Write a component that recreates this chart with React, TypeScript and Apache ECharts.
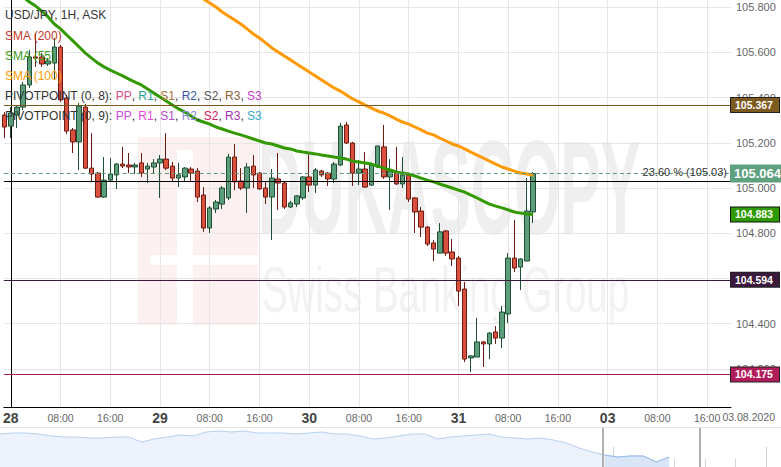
import React, { useEffect, useRef } from "react";
import * as echarts from "echarts";

// ---- data (hour index 0 = 28 Jul 00:00, weekend skipped) ----
const firstHour = -1;
const opens = [105.323, 105.274, 105.323, 105.358, 105.456, 105.580, 105.580, 105.549, 105.553, 105.624, 105.398, 105.257, 105.204, 105.358, 105.088, 105.066, 104.960, 105.035, 105.058, 105.106, 105.102, 105.093, 105.111, 105.084, 105.093, 105.111, 105.128, 105.097, 105.044, 105.049, 105.084, 105.075, 104.969, 104.823, 104.907, 104.929, 104.956, 105.137, 105.031, 105.000, 105.097, 105.066, 105.000, 104.960, 105.040, 105.022, 104.916, 104.929, 104.956, 105.049, 105.013, 105.075, 105.066, 105.040, 105.102, 105.279, 105.199, 105.066, 105.084, 105.013, 105.093, 105.182, 105.049, 105.071, 105.018, 105.058, 104.956, 104.898, 104.827, 104.757, 104.712, 104.810, 104.717, 104.690, 104.553, 104.248, 104.252, 104.319, 104.310, 104.363, 104.336, 104.443, 104.690, 104.650, 104.677, 104.894];
const closes = [105.270, 105.332, 105.358, 105.456, 105.580, 105.575, 105.549, 105.562, 105.624, 105.390, 105.252, 105.204, 105.363, 105.088, 105.062, 104.960, 105.035, 105.062, 105.106, 105.097, 105.093, 105.102, 105.066, 105.097, 105.111, 105.128, 105.088, 105.044, 105.058, 105.088, 105.066, 104.960, 104.823, 104.912, 104.938, 105.000, 105.137, 105.027, 105.000, 105.093, 105.058, 104.996, 104.960, 105.044, 105.022, 104.916, 104.934, 104.965, 105.049, 105.013, 105.080, 105.058, 105.040, 105.106, 105.274, 105.199, 105.066, 105.084, 105.004, 105.102, 105.186, 105.049, 105.075, 105.018, 105.058, 104.951, 104.894, 104.827, 104.752, 104.730, 104.806, 104.712, 104.686, 104.544, 104.243, 104.257, 104.319, 104.310, 104.358, 104.336, 104.451, 104.690, 104.646, 104.686, 104.898, 105.064];
const lows = [105.221, 105.221, 105.266, 105.345, 105.443, 105.536, 105.536, 105.540, 105.478, 105.381, 105.239, 105.155, 105.080, 105.084, 105.027, 104.956, 104.956, 105.027, 104.996, 105.088, 105.066, 105.062, 105.049, 105.022, 105.066, 104.956, 105.080, 105.027, 105.004, 105.027, 105.027, 104.938, 104.806, 104.801, 104.889, 104.907, 104.947, 104.991, 104.991, 104.889, 105.000, 104.991, 104.929, 104.770, 104.903, 104.907, 104.912, 104.916, 104.947, 104.982, 104.978, 105.049, 105.009, 105.022, 105.097, 105.195, 105.009, 105.013, 105.000, 105.009, 105.088, 105.040, 104.903, 105.013, 105.000, 104.938, 104.801, 104.783, 104.743, 104.677, 104.712, 104.699, 104.655, 104.478, 104.230, 104.186, 104.252, 104.208, 104.243, 104.310, 104.292, 104.403, 104.628, 104.549, 104.677, 104.845];
const highs = [105.336, 105.358, 105.367, 105.469, 105.611, 105.686, 105.597, 105.575, 105.664, 105.633, 105.412, 105.266, 105.376, 105.372, 105.243, 105.071, 105.137, 105.133, 105.111, 105.182, 105.155, 105.111, 105.155, 105.111, 105.128, 105.146, 105.243, 105.115, 105.111, 105.093, 105.093, 105.088, 105.004, 104.920, 104.947, 105.009, 105.151, 105.195, 105.088, 105.111, 105.146, 105.071, 105.027, 105.084, 105.155, 105.027, 104.943, 104.969, 105.053, 105.155, 105.088, 105.080, 105.071, 105.115, 105.288, 105.292, 105.204, 105.124, 105.159, 105.106, 105.186, 105.279, 105.128, 105.182, 105.137, 105.062, 104.960, 104.916, 104.832, 104.770, 104.845, 104.814, 104.774, 104.699, 104.584, 104.261, 104.425, 104.323, 104.363, 104.389, 104.478, 104.712, 104.859, 104.690, 105.044, 105.071];

const sma55Start = -1;
const sma55 = [105.905, 105.885, 105.863, 105.845, 105.823, 105.805, 105.783, 105.757, 105.726, 105.704, 105.677, 105.651, 105.624, 105.597, 105.575, 105.553, 105.536, 105.522, 105.509, 105.496, 105.482, 105.469, 105.456, 105.438, 105.420, 105.403, 105.385, 105.367, 105.350, 105.336, 105.319, 105.301, 105.292, 105.283, 105.270, 105.261, 105.252, 105.243, 105.235, 105.226, 105.217, 105.208, 105.199, 105.195, 105.186, 105.177, 105.173, 105.164, 105.159, 105.155, 105.151, 105.146, 105.142, 105.137, 105.133, 105.128, 105.119, 105.115, 105.111, 105.106, 105.097, 105.088, 105.080, 105.071, 105.066, 105.062, 105.053, 105.044, 105.035, 105.027, 105.018, 105.009, 105.000, 104.991, 104.982, 104.969, 104.956, 104.942, 104.929, 104.920, 104.912, 104.903, 104.894, 104.889, 104.885, 104.883];
const sma100Start = 30;
const sma100 = [105.854, 105.836, 105.819, 105.801, 105.779, 105.761, 105.744, 105.726, 105.704, 105.682, 105.664, 105.642, 105.620, 105.602, 105.584, 105.567, 105.549, 105.531, 105.513, 105.496, 105.478, 105.460, 105.443, 105.429, 105.412, 105.394, 105.381, 105.367, 105.354, 105.341, 105.332, 105.319, 105.305, 105.292, 105.283, 105.270, 105.257, 105.243, 105.235, 105.221, 105.208, 105.195, 105.186, 105.173, 105.159, 105.146, 105.133, 105.119, 105.106, 105.093, 105.084, 105.075, 105.066, 105.062, 105.058];

const xTickHours = [0, 8, 16, 24, 32, 40, 48, 56, 64, 72, 80, 88, 96, 104, 112];
const xTickLabels = ["28", "08:00", "16:00", "29", "08:00", "16:00", "30", "08:00", "16:00", "31", "08:00", "16:00", "03", "08:00", "16:00"];
const yTickValues = [104.2, 104.4, 104.6, 104.8, 105.0, 105.2, 105.4, 105.6, 105.8];

const pivotHigh = 105.367;
const lastPrice = 105.064;
const fibLevel = 105.03;
const fibPct = 23.6;
const sma55Last = 104.883;
const pivotMid = 104.594;
const pivotLow = 104.175;

const navStartDay = -1.046;
const navStepDay = 0.4206;
const navValues = [33, 34, 34, 33, 31, 30, 30, 29, 29, 30, 30, 25, 28, 30, 32, 31, 35, 36, 35, 36, 34, 34, 34, 33, 34, 35, 33, 33, 31, 28, 29, 31, 33, 33, 28, 30, 31, 32, 33, 30, 29, 28, 29, 27, 24, 19, 15, 12, 10, 11, 11, 5, 10];
const navSelectedFrom = 47;
const navDayTicks = [0, 1, 2, 3, 4, 5, 6, 7, 8, 9, 10, 11, 12, 13, 14, 15, 16, 17, 18, 19, 20, 21, 22, 23, 24];
const navWeekTicks = [4, 9, 14, 19, 24];
const navWindow = [18.66, 21.83];

const FONT = '"Liberation Sans", Arial, sans-serif';

export default function App() {
  const ref = useRef<HTMLDivElement>(null);
  useEffect(() => {
    if (!ref.current) return;
    const chart = echarts.init(ref.current, undefined, { renderer: "svg" });

    const candleData = opens.map((o, i) => [firstHour + i, o, closes[i], lows[i], highs[i]]);
    const sma55Data = sma55.map((v, i) => [sma55Start + i, v]);
    const sma100Data = sma100.map((v, i) => [sma100Start + i, v]);
    const navData = navValues.map((v, i) => [navStartDay + i * navStepDay, v]);
    const navSel = navData.slice(navSelectedFrom);

    const boxLabel = (value: number, bg: string, extra: any = {}) => ({
      show: true,
      position: "end",
      distance: 0,
      formatter: () => value.toFixed(3),
      color: "#fff",
      fontWeight: "bold",
      fontSize: 10.5,
      fontFamily: FONT,
      backgroundColor: bg,
      borderColor: "#222",
      borderWidth: 1,
      width: 40,
      padding: [2, 4, 1, 4],
      ...extra,
    });

    const legendLine = (parts: [string, string][]) => {
      const rich: any = {};
      let text = "";
      parts.forEach(([t, c], k) => {
        rich["p" + k] = { fill: c, color: c, fontSize: 12, fontFamily: FONT };
        text += "{p" + k + "|" + t + "}";
      });
      return { text, rich };
    };
    const piv1 = legendLine([
      ["PIVOTPOINT (0, 8): ", "#333"], ["PP", "#d9508f"], [", ", "#333"], ["R1", "#2aa198"], [", ", "#333"],
      ["S1", "#a5753a"], [", ", "#333"], ["R2", "#3a56a8"], [", ", "#333"], ["S2", "#555"], [", ", "#333"],
      ["R3", "#8c6239"], [", ", "#333"], ["S3", "#c63bc6"],
    ]);
    const piv2 = legendLine([
      ["PIVOTPOINT (0, 9): ", "#333"], ["PP", "#c84bdc"], [", ", "#333"], ["R1", "#e64ad8"], [", ", "#333"],
      ["S1", "#b84ad0"], [", ", "#333"], ["R2", "#8a8ad8"], [", ", "#333"], ["S2", "#c8245a"], [", ", "#333"],
      ["R3", "#a52fa8"], [", ", "#333"], ["S3", "#3aa8c8"],
    ]);

    const option: any = {
      animation: false,
      backgroundColor: "#fff",
      textStyle: { fontFamily: FONT },
      grid: [
        { left: 0, right: 50, top: 0, bottom: 60 },
        { left: 0, right: 0, top: 428, height: 39 },
      ],
      xAxis: [
        {
          type: "value", gridIndex: 0, min: -1.12, max: 115.84,
          axisLine: { show: true, lineStyle: { color: "#000", width: 1 } },
          axisTick: { show: false, customValues: xTickHours },
          axisLabel: {
            customValues: xTickHours,
            margin: 2,
            formatter: (v: number) => {
              const k = xTickHours.indexOf(Math.round(v));
              if (k < 0) return "";
              const s = xTickLabels[k];
              return s.indexOf(":") >= 0 ? "{t|" + s + "}" : "{d|" + s + "}";
            },
            rich: {
              d: { fontSize: 14, fontWeight: "bold", color: "#444", lineHeight: 18, fontFamily: FONT },
              t: { fontSize: 10.5, color: "#666", lineHeight: 18, fontFamily: FONT },
            },
          },
          splitLine: { show: true, lineStyle: { color: "#e6e6e6", width: 1 } },
        },
        {
          type: "value", gridIndex: 1, min: -1.046, max: 24.48, position: "bottom",
          axisLine: { show: false },
          axisTick: { show: true, inside: true, length: 8, customValues: navDayTicks, lineStyle: { color: "#d6d6d6" } },
          axisLabel: { show: false },
          splitLine: { show: false },
        },
        {
          type: "value", gridIndex: 1, min: -1.046, max: 24.48, position: "bottom", offset: 0,
          axisLine: { show: false },
          axisTick: { show: true, inside: true, length: 20, customValues: navWeekTicks, lineStyle: { color: "#cfcfcf" } },
          axisLabel: { show: false },
          splitLine: { show: false },
        },
      ],
      yAxis: [
        {
          type: "value", gridIndex: 0, position: "right", min: 104.031, max: 105.832,
          axisLine: { show: true, lineStyle: { color: "#000", width: 1 } },
          axisTick: { show: false, customValues: yTickValues },
          axisLabel: {
            customValues: yTickValues,
            formatter: (v: number) => v.toFixed(3),
            color: "#666", fontSize: 11, margin: 5, fontFamily: FONT,
          },
          splitLine: { show: true, lineStyle: { color: "#e6e6e6", width: 1 } },
        },
        { type: "value", gridIndex: 1, min: 0, max: 39, show: false },
      ],
      series: [
        {
          type: "candlestick",
          xAxisIndex: 0, yAxisIndex: 0,
          data: candleData,
          encode: { x: 0, y: [1, 2, 3, 4] },
          barWidth: 5,
          z: 3,
          itemStyle: {
            color: "#5c9e7c", color0: "#d9503e",
            borderColor: "#1f4f33", borderColor0: "#6e1c12", borderWidth: 1,
          },
          markLine: {
            silent: true,
            symbol: ["none", "none"],
            precision: 3,
            z: 6,
            data: [
              { yAxis: pivotHigh, lineStyle: { color: "#7d5a1f", width: 1, type: "solid" }, label: boxLabel(pivotHigh, "#7d5a1f") },
              {
                yAxis: fibLevel, lineStyle: { color: "#000", width: 1, type: "solid" },
                label: {
                  show: true, position: "insideEndTop", distance: 4,
                  formatter: () => fibPct.toFixed(2) + " % (" + fibLevel.toFixed(2) + ")",
                  color: "#333", fontSize: 11, fontFamily: FONT,
                },
              },
              {
                yAxis: lastPrice, lineStyle: { color: "#5f9c7d", width: 1, type: [4, 3] },
                label: boxLabel(lastPrice, "#5fa07f", { fontSize: 13, borderColor: "#5fa07f", width: 44, padding: [2, 2, 1, 3] }),
              },
              { yAxis: sma55Last, lineStyle: { color: "rgba(0,0,0,0)", width: 0 }, label: boxLabel(sma55Last, "#2e9a00", { borderColor: "#111" }) },
              { yAxis: pivotMid, lineStyle: { color: "#3b1a3d", width: 1, type: "solid" }, label: boxLabel(pivotMid, "#3b1a3d") },
              { yAxis: pivotLow, lineStyle: { color: "#a8204f", width: 1, type: "solid" }, label: boxLabel(pivotLow, "#b11c5a") },
            ],
          },
        },
        {
          type: "line", xAxisIndex: 0, yAxisIndex: 0, data: sma55Data, symbol: "none", z: 4,
          lineStyle: { color: "#339900", width: 3 }, silent: true,
        },
        {
          type: "line", xAxisIndex: 0, yAxisIndex: 0, data: sma100Data, symbol: "none", z: 4,
          lineStyle: { color: "#ff9900", width: 3 }, silent: true,
        },
        {
          type: "line", xAxisIndex: 1, yAxisIndex: 1, data: navData, symbol: "none", silent: true,
          lineStyle: { color: "#b8cff0", width: 1 }, areaStyle: { color: "#ecf3fd", opacity: 1 },
        },
        {
          type: "line", xAxisIndex: 1, yAxisIndex: 1, data: navSel, symbol: "none", silent: true,
          lineStyle: { color: "#9fbdea", width: 1 }, areaStyle: { color: "#d9e6f8", opacity: 1 },
          markLine: {
            silent: true, symbol: ["none", "none"], label: { show: false },
            lineStyle: { color: "#b0b0b0", width: 2, type: "solid" },
            data: navWindow.map((d) => ({ xAxis: d })),
          },
        },
      ],
      graphic: [
        // watermark
        { type: "rect", z: -1, silent: true, shape: { x: 138, y: 137, width: 120, height: 188 }, style: { fill: "#fdf0f0" } },
        { type: "rect", z: -1, silent: true, shape: { x: 177, y: 150, width: 16, height: 175 }, style: { fill: "#ffffff" } },
        { type: "rect", z: -1, silent: true, shape: { x: 150, y: 255, width: 108, height: 10 }, style: { fill: "#ffffff" } },
        {
          type: "text", z: -1, silent: true, x: 258, y: 188, scaleX: 0.45,
          style: { text: "DUKASCOPY", font: "bold 133px " + FONT, fill: "#efefef", verticalAlign: "middle" },
        },
        {
          type: "text", z: -1, silent: true, x: 262, y: 290, scaleX: 0.6,
          style: { text: "Swiss Banking Group", font: "64px " + FONT, fill: "#f2f2f2", verticalAlign: "middle" },
        },
        // legend texts
        { type: "text", z: 20, silent: true, x: 5, y: 15, style: { text: "USD/JPY, 1H, ASK", font: "12px " + FONT, fill: "#333", verticalAlign: "middle" } },
        { type: "text", z: 20, silent: true, x: 5, y: 36, style: { text: "SMA (200)", font: "12px " + FONT, fill: "#c0392b", verticalAlign: "middle" } },
        { type: "text", z: 20, silent: true, x: 5, y: 56, style: { text: "SMA (55)", font: "12px " + FONT, fill: "#3a9a1a", verticalAlign: "middle" } },
        { type: "text", z: 20, silent: true, x: 5, y: 76, style: { text: "SMA (100)", font: "12px " + FONT, fill: "#ff9a00", verticalAlign: "middle" } },
        { type: "text", z: 20, silent: true, x: 5, y: 96, style: { text: piv1.text, rich: piv1.rich, font: "12px " + FONT, verticalAlign: "middle" } },
        { type: "text", z: 20, silent: true, x: 5, y: 116, style: { text: piv2.text, rich: piv2.rich, font: "12px " + FONT, verticalAlign: "middle" } },
        // date on the right of the axis
        { type: "text", z: 20, silent: true, x: 775, y: 417, style: { text: "03.08.2020", font: "10.5px " + FONT, fill: "#666", align: "right", verticalAlign: "middle" } },
        // separator above navigator
        { type: "line", z: 20, silent: true, shape: { x1: 0, y1: 427.5, x2: 781, y2: 427.5 }, style: { stroke: "#e4e4e4", lineWidth: 1 } },
      ],
    };
    chart.setOption(option);
    return () => chart.dispose();
  }, []);
  return <div ref={ref} style={{ position: "absolute", left: 0, top: 0, width: 781, height: 467 }} />;
}
